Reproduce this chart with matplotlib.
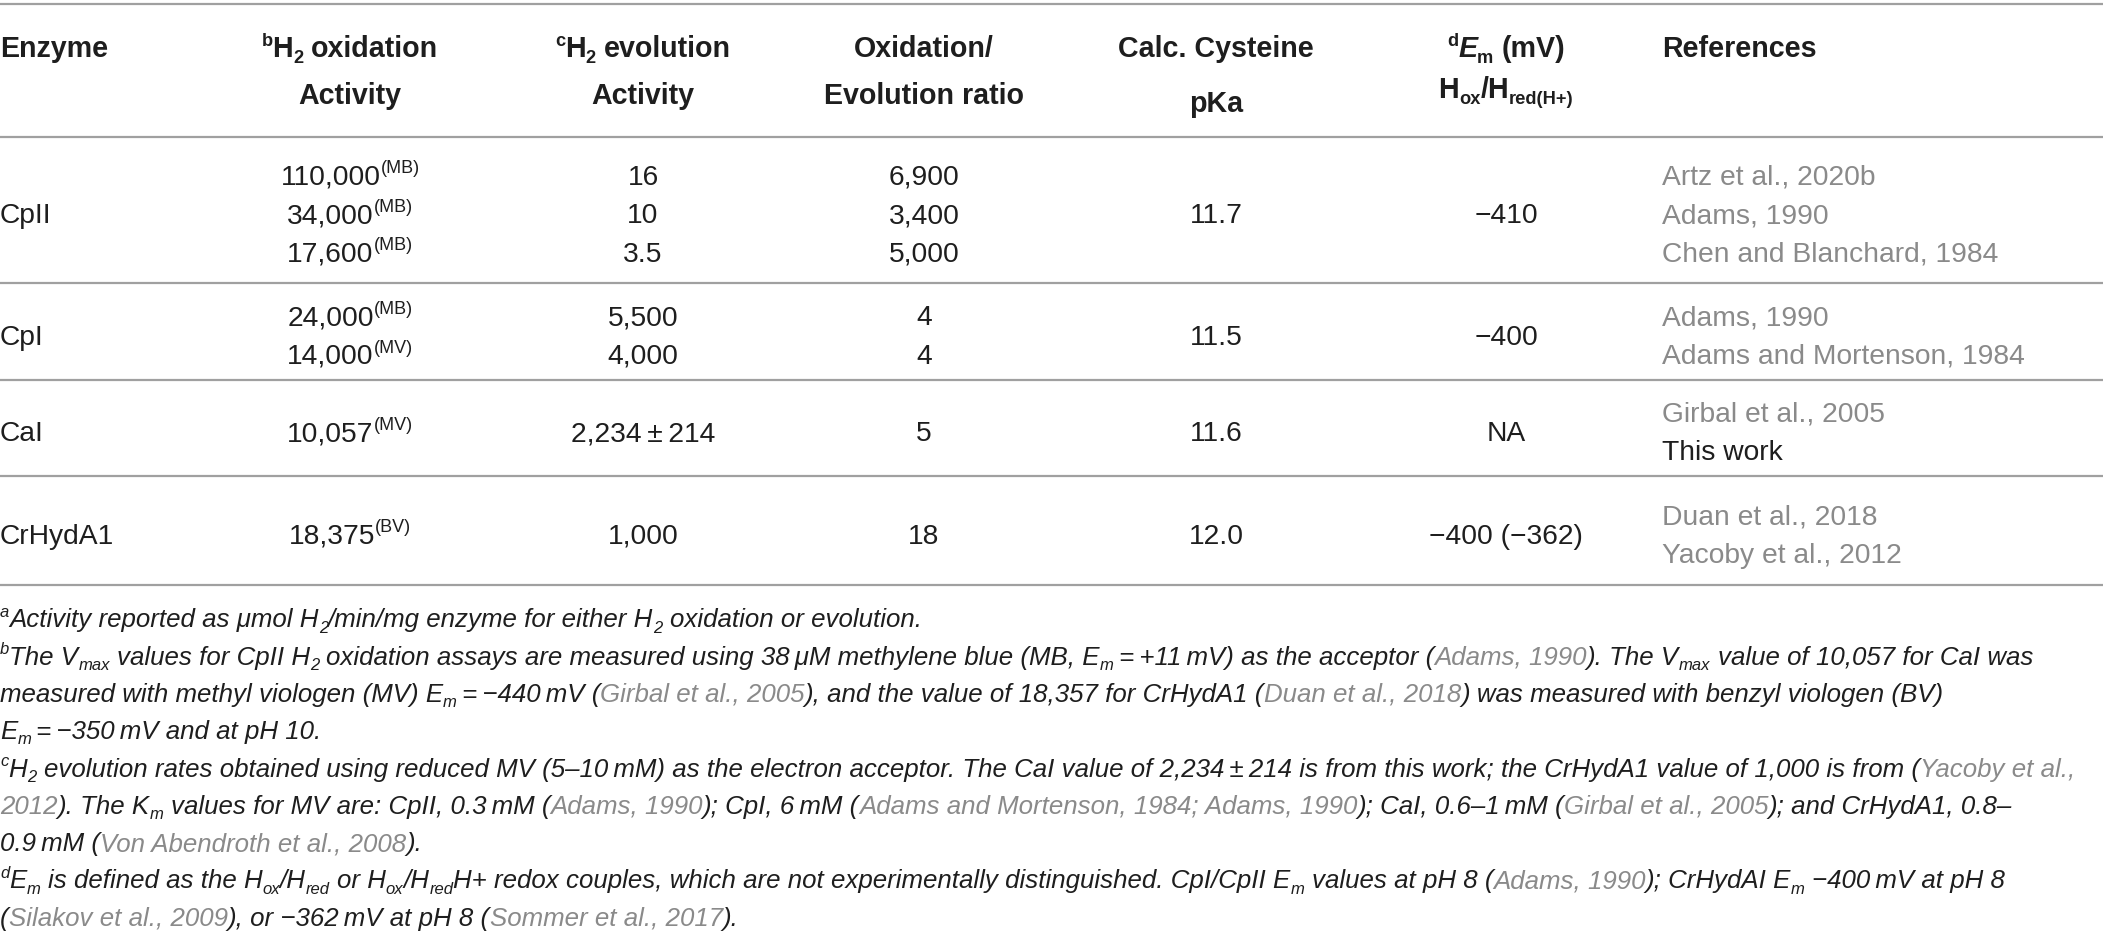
import matplotlib
matplotlib.use('Agg')
import matplotlib.pyplot as plt
from matplotlib.font_manager import FontProperties

# ---------------- data ----------------
header_line1 = ['Enzyme', '^{b}H_{2} oxidation', '^{c}H_{2} evolution', 'Oxidation/',
                'Calc. Cysteine', '^{d}*E*_{m} (mV)', 'References']
header_line2 = ['', 'Activity', 'Activity', 'Evolution ratio', 'pKa',
                'H_{ox}/H_{red(H+)}', '']

enzymes = ['CpII', 'CpI', 'CaI', 'CrHydA1']
h2_oxidation = [['110,000^{(MB)}', '34,000^{(MB)}', '17,600^{(MB)}'],
                ['24,000^{(MB)}', '14,000^{(MV)}'],
                ['10,057^{(MV)}'],
                ['18,375^{(BV)}']]
h2_evolution = [['16', '10', '3.5'], ['5,500', '4,000'],
                ['2,234\u2009±\u2009214'], ['1,000']]
ox_ev_ratio = [['6,900', '3,400', '5,000'], ['4', '4'], ['5'], ['18']]
cys_pka = [['11.7'], ['11.5'], ['11.6'], ['12.0']]
em_mv = [['\u2212410'], ['\u2212400'], ['NA'], ['\u2212400 (\u2212362)']]
references = [['[Artz et al., 2020b]', '[Adams, 1990]', '[Chen and Blanchard, 1984]'],
              ['[Adams, 1990]', '[Adams and Mortenson, 1984]'],
              ['[Girbal et al., 2005]', 'This work'],
              ['[Duan et al., 2018]', '[Yacoby et al., 2012]']]

footnotes = [
    '^{a}Activity reported as \u03bcmol H_{2}/min/mg enzyme for either H_{2} oxidation or evolution.',
    '^{b}The V_{max} values for CpII H_{2} oxidation assays are measured using 38\u2009\u03bcM methylene blue (MB, E_{m}\u2009=\u2009+11\u2009mV) as the acceptor ([Adams, 1990]). The V_{max} value of 10,057 for CaI was',
    'measured with methyl viologen (MV) E_{m}\u2009=\u2009\u2212440\u2009mV ([Girbal et al., 2005]), and the value of 18,357 for CrHydA1 ([Duan et al., 2018]) was measured with benzyl viologen (BV)',
    'E_{m}\u2009=\u2009\u2212350\u2009mV and at pH 10.',
    '^{c}H_{2} evolution rates obtained using reduced MV (5\u201310\u2009mM) as the electron acceptor. The CaI value of 2,234\u2009\u00b1\u2009214 is from this work; the CrHydA1 value of 1,000 is from ([Yacoby et al.,]',
    '[2012]). The K_{m} values for MV are: CpII, 0.3\u2009mM ([Adams, 1990]); CpI, 6\u2009mM ([Adams and Mortenson, 1984; Adams, 1990]); CaI, 0.6\u20131\u2009mM ([Girbal et al., 2005]); and CrHydA1, 0.8\u2013',
    '0.9\u2009mM ([Von Abendroth et al., 2008]).',
    '^{d}E_{m} is defined as the H_{ox}/H_{red} or H_{ox}/H_{red}H+ redox couples, which are not experimentally distinguished. CpI/CpII E_{m} values at pH 8 ([Adams, 1990]); CrHydAI E_{m} \u2212400\u2009mV at pH 8',
    '([Silakov et al., 2009]), or \u2212362\u2009mV at pH 8 ([Sommer et al., 2017]).',
]

# ---------------- layout / style ----------------
W, H, DPI = 2103, 943, 100
FAMILY = ['Liberation Sans', 'DejaVu Sans']
FOOT_FAMILY = ['Liberation Sans Narrow', 'Liberation Sans', 'DejaVu Sans']
INK = '#1e1e1e'
GRAY = '#8a8a8a'
RULE = '#a0a0a0'
BODY_PT = 20.3
HEAD_PT = 20.6
COL_X = [0, 350, 643, 924, 1216, 1506, 1662]
COL_HA = ['left', 'center', 'center', 'center', 'center', 'center', 'left']
HEAD_Y1 = 47
HEAD_Y2 = [94, 94, 94, 94, 102, 88, 94]
RULES_Y = [4, 137, 283, 380, 476, 585]
ROW_STEP = 38.6
FOOT_Y0, FOOT_STEP = 618, 37.3
FOOT_TARGET_W = 2038  # width of the 2nd footnote line

fig = plt.figure(figsize=(W / DPI, H / DPI), dpi=DPI)
ax = fig.add_axes([0, 0, 1, 1])
ax.set_xlim(0, W)
ax.set_ylim(H, 0)
ax.axis('off')
fig.canvas.draw()
R = fig.canvas.get_renderer()


def parse(s):
    segs = []
    state = {'gray': False, 'ital': False, 'buf': ''}

    def flush():
        if state['buf']:
            segs.append((state['buf'], 'n', state['gray'], state['ital']))
            state['buf'] = ''
    i = 0
    while i < len(s):
        c = s[i]
        if c in '^_' and i + 1 < len(s) and s[i + 1] == '{':
            flush()
            j = s.index('}', i)
            segs.append((s[i + 2:j], 'sup' if c == '^' else 'sub', state['gray'], state['ital']))
            i = j + 1
            continue
        if c == '[':
            flush(); state['gray'] = True
        elif c == ']':
            flush(); state['gray'] = False
        elif c == '*':
            flush(); state['ital'] = not state['ital']
        else:
            state['buf'] += c
        i += 1
    flush()
    return segs


def width(text, prop):
    w1, _, _ = R.get_text_width_height_descent('|' + text + '|', prop, ismath=False)
    w0, _, _ = R.get_text_width_height_descent('||', prop, ismath=False)
    return w1 - w0


def layout(s, size, weight='normal', italic=False, family=FAMILY):
    items, total = [], 0.0
    for text, mode, g, it in parse(s):
        fs = size * (0.64 if mode != 'n' else 1.0)
        style = 'italic' if (it != italic) else 'normal'
        prop = FontProperties(family=family, size=fs, weight=weight, style=style)
        w = width(text, prop)
        items.append((text, mode, g, prop, w))
        total += w
    return items, total


def rich(x, yc, s, size, weight='normal', italic=False, color=INK, ha='left',
         draw=True, family=FAMILY):
    items, total = layout(s, size, weight, italic, family)
    if not draw:
        return total
    px = size * DPI / 72.0
    base = yc + 0.36 * px
    x0 = x - total / 2 if ha == 'center' else (x - total if ha == 'right' else x)
    for text, mode, g, prop, w in items:
        dy = -0.40 * px if mode == 'sup' else (0.20 * px if mode == 'sub' else 0)
        stripped = text.lstrip(' ')
        lead = width(text[:len(text) - len(stripped)], prop) if stripped != text else 0
        if stripped:
            ax.text(x0 + lead, base + dy, stripped, fontproperties=prop,
                    color=GRAY if g else color, va='baseline', ha='left')
        x0 += w
    return total


# rules
for y in RULES_Y:
    ax.plot([0, W], [y, y], color=RULE, lw=1.6, solid_capstyle='butt')

# header
for k in range(len(header_line1)):
    rich(COL_X[k], HEAD_Y1, header_line1[k], HEAD_PT, weight='bold', ha=COL_HA[k])
    if header_line2[k]:
        rich(COL_X[k], HEAD_Y2[k], header_line2[k], HEAD_PT, weight='bold', ha=COL_HA[k])

# body
columns = [h2_oxidation, h2_evolution, ox_ev_ratio, cys_pka, em_mv, references]
for gi, name in enumerate(enzymes):
    yc = (RULES_Y[gi + 1] + RULES_Y[gi + 2]) / 2.0 + 3
    rich(COL_X[0], yc, name, BODY_PT, ha='left')
    for ci, col in enumerate(columns):
        cells = col[gi]
        n = len(cells)
        for ri, cell in enumerate(cells):
            y = yc + (ri - (n - 1) / 2.0) * ROW_STEP
            rich(COL_X[ci + 1], y, cell, BODY_PT, ha=COL_HA[ci + 1])

# footnotes: fit size to target width of the longest full line
fp = 15.0
w = rich(0, 0, footnotes[1], fp, italic=True, draw=False, family=FOOT_FAMILY)
fp = min(fp * FOOT_TARGET_W / w, 21.0)
for i, line in enumerate(footnotes):
    rich(0, FOOT_Y0 + i * FOOT_STEP, line, fp, italic=True, ha='left', family=FOOT_FAMILY)

fig.savefig('out.png', dpi=DPI)
